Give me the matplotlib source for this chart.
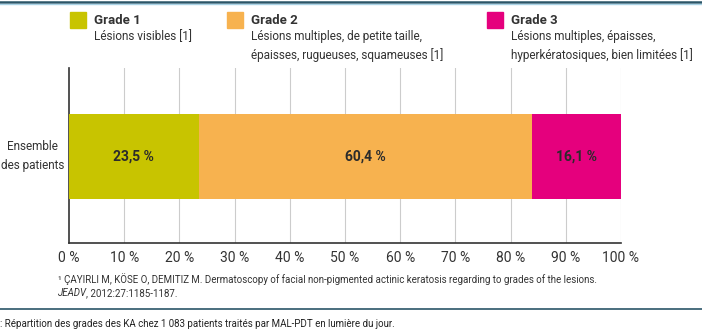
import matplotlib
matplotlib.use("Agg")
import matplotlib.pyplot as plt
from matplotlib.patches import Rectangle
from matplotlib.lines import Line2D

plt.rcParams['font.family'] = ['Roboto', 'DejaVu Sans']

category = "Ensemble\ndes patients"
grades = ["Grade 1", "Grade 2", "Grade 3"]
descriptions = [
    "Lésions visibles [1]",
    "Lésions multiples, de petite taille,\népaisses, rugueuses, squameuses [1]",
    "Lésions multiples, épaisses,\nhyperkératosiques, bien limitées [1]",
]
values = [23.5, 60.4, 16.1]
value_labels = ["23,5 %", "60,4 %", "16,1 %"]
colors = ["#C8C400", "#F7B24F", "#E5007D"]
ticks = [0, 10, 20, 30, 40, 50, 60, 70, 80, 90, 100]
tick_labels = [f"{t} %" for t in ticks]

W, H = 702, 336
fig = plt.figure(figsize=(W / 100, H / 100), dpi=100)
ax = fig.add_axes([69 / W, 1 - 243 / H, (621 - 69) / W, (243 - 68) / H])

left = 0
for v, c, lab in zip(values, colors, value_labels):
    ax.barh(0, v, left=left, height=0.6, color=c, zorder=3)
    ax.text(left + v / 2, 0, lab, ha="center", va="center", fontsize=10,
            fontweight="bold", color="#2b2b2b", zorder=4)
    left += v

ax.set_xlim(0, 100)
ax.set_ylim(-0.61, 0.625)
ax.set_xticks(ticks)
ax.set_xticklabels(tick_labels)
ax.tick_params(axis="x", length=0, pad=6, labelsize=10, labelcolor="#333333")
ax.set_yticks([])
for t in ticks[1:]:
    ax.axvline(t, color="#cccccc", lw=0.8, zorder=1)
for s in ["top", "right"]:
    ax.spines[s].set_visible(False)
ax.spines["left"].set_color("#333333")
ax.spines["bottom"].set_color("#333333")
ax.spines["left"].set_linewidth(1.2)
ax.spines["bottom"].set_linewidth(1.2)

# category label
fig.text(64 / W, 1 - 156 / H, category, ha="right", va="center", fontsize=8.5,
         color="#333333", linespacing=1.5, multialignment="center")

# legend
sq_x = [70, 227, 487]
for gx, g, d, c in zip(sq_x, grades, descriptions, colors):
    fig.patches.append(Rectangle((gx / W, 1 - 28 / H), 16 / W, 16 / H,
                                 transform=fig.transFigure, color=c))
    fig.text((gx + 24) / W, 1 - 20 / H, g, ha="left", va="center", fontsize=9.5,
             fontweight="bold", color="#333333")
    fig.text((gx + 24) / W, 1 - 30 / H, d, ha="left", va="top", fontsize=8.5,
             color="#333333", linespacing=1.45)

# footnote
fig.text(58 / W, 1 - 279 / H,
         "¹ ÇAYIRLI M, KÖSE O, DEMITIZ M. Dermatoscopy of facial non-pigmented actinic keratosis regarding to grades of the lesions.",
         ha="left", va="center", fontsize=7.0, color="#333333")
jt = fig.text(58 / W, 1 - 293 / H, "JEADV", ha="left", va="center", fontsize=7.0,
              color="#333333", style="italic")
fig.canvas.draw()
bb = jt.get_window_extent()
fig.text((bb.x1 - 1) / W, 1 - 293 / H, ", 2012:27:1185-1187.", ha="left",
         va="center", fontsize=7.0, color="#333333")

# rules
fig.lines.append(Line2D([0, 1], [1 - 1.5 / H] * 2, transform=fig.transFigure,
                        color="#2B5568", lw=1.8))
fig.lines.append(Line2D([0, 1], [1 - 4 / H] * 2, transform=fig.transFigure,
                        color="#A9D3E6", lw=1.0))
fig.lines.append(Line2D([0, 1], [1 - 309 / H] * 2, transform=fig.transFigure,
                        color="#2B5568", lw=1.2))

fig.text(0, 1 - 324 / H,
         ": Répartition des grades des KA chez 1 083 patients traités par MAL-PDT en lumière du jour.",
         ha="left", va="center", fontsize=7.0, color="#222222")

fig.savefig("out.png", dpi=100)
